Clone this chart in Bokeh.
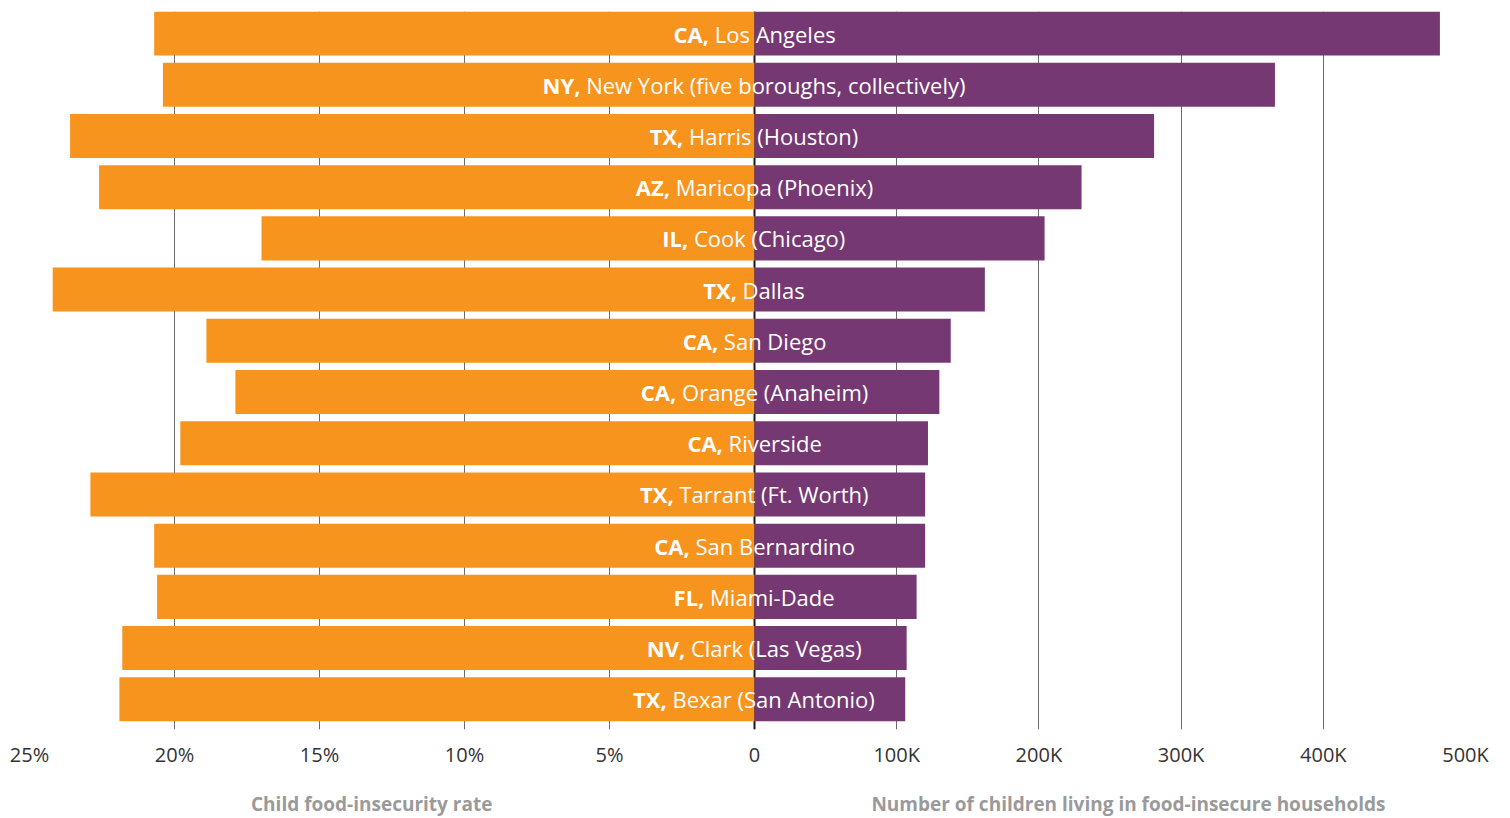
from bokeh.plotting import figure
from bokeh.layouts import column
from bokeh.models import Range1d, ColumnDataSource, FixedTicker, CustomJSTickFormatter, Span
from bokeh.core.properties import value
from bokeh.embed import file_html
from bokeh.resources import INLINE

# ---------------- data ----------------
states = ["CA", "NY", "TX", "AZ", "IL", "TX", "CA", "CA", "CA", "TX", "CA", "FL", "NV", "TX"]
counties = ["Los Angeles", "New York (five boroughs, collectively)", "Harris (Houston)",
            "Maricopa (Phoenix)", "Cook (Chicago)", "Dallas", "San Diego", "Orange (Anaheim)",
            "Riverside", "Tarrant (Ft. Worth)", "San Bernardino", "Miami-Dade",
            "Clark (Las Vegas)", "Bexar (San Antonio)"]
rate = [20.7, 20.4, 23.6, 22.6, 17.0, 24.2, 18.9, 17.9, 19.8, 22.9, 20.7, 20.6, 21.8, 21.9]
children = [482000, 366000, 281000, 230000, 204000, 162000, 138000, 130000, 122000,
            120000, 120000, 114000, 107000, 106000]
rate_ticks = [25, 20, 15, 10, 5, 0]
child_ticks = [100000, 200000, 300000, 400000, 500000]
left_title = "Child food-insecurity rate"
right_title = "Number of children living in food-insecure households"

# ---------------- layout ----------------
LEFT_PX, RIGHT_PX = 725, 711
FRAME_W = LEFT_PX + RIGHT_PX
FRAME_H = 718
BORDER_L, BORDER_R, BORDER_T, BORDER_B = 29, 30, 11, 46
TITLE_H = 816 - (BORDER_T + FRAME_H + BORDER_B)
RATE_MAX, CHILD_MAX = 25, 500000
rate_end = -RATE_MAX * RIGHT_PX / LEFT_PX          # main range (percent units)
child_start = -CHILD_MAX * LEFT_PX / RIGHT_PX      # extra range (children)
k = CHILD_MAX / (-rate_end)                        # children per percent unit on right

ORANGE = "#F7941E"
PURPLE = "#763873"
FONT = "Open Sans"
LABEL_SIZE = 22

# approximate advance widths (em/1000) for centering mixed-weight labels
W = {' ': 260, ',': 245, '(': 294, ')': 294, '-': 322, '.': 266,
     'A': 633, 'B': 648, 'C': 631, 'D': 729, 'E': 556, 'F': 516, 'G': 728, 'H': 738,
     'I': 279, 'L': 519, 'M': 907, 'N': 763, 'O': 781, 'P': 602, 'R': 618, 'S': 549,
     'T': 553, 'V': 581, 'W': 896, 'X': 576, 'Y': 560, 'Z': 573,
     'a': 556, 'b': 613, 'c': 476, 'd': 613, 'e': 561, 'f': 339, 'g': 548, 'h': 614,
     'i': 253, 'k': 525, 'l': 253, 'm': 930, 'n': 614, 'o': 604, 'p': 613, 'r': 408,
     's': 477, 't': 353, 'u': 614, 'v': 501, 'w': 778, 'x': 524, 'y': 502}


def tw(s, bold=False):
    f = 1.08 if bold else 1.0
    return sum(W.get(c, 560) for c in s) * f * LABEL_SIZE / 1000.0


n = len(states)
idx = list(range(n))
bold_txt = [s + "," for s in states]
off_b, off_r = [], []
for b, r in zip(bold_txt, counties):
    wb, ws, wr = tw(b, True), tw(" "), tw(r)
    start = -(wb + ws + wr) / 2
    off_b.append(start + wb)
    off_r.append(start + wb + ws)

src = ColumnDataSource(dict(y=idx, rate=rate, children=children, zero=[0] * n,
                            btxt=bold_txt, rtxt=counties, ob=off_b, orr=off_r))

xr = Range1d(RATE_MAX, rate_end)
kids_range = Range1d(child_start, CHILD_MAX)

p = figure(width=BORDER_L + FRAME_W + BORDER_R, height=BORDER_T + FRAME_H + BORDER_B,
           x_range=xr, y_range=Range1d(13.59, -0.43),
           output_backend="svg", toolbar_location=None,
           min_border_left=BORDER_L, min_border_right=BORDER_R,
           min_border_top=BORDER_T, min_border_bottom=BORDER_B)
p.extra_x_ranges = {"kids": kids_range}
p.outline_line_color = None
p.yaxis.visible = False
p.ygrid.visible = False

ticks = list(rate_ticks) + [-t / k for t in child_ticks]
p.xaxis.ticker = FixedTicker(ticks=ticks)
p.xgrid.ticker = FixedTicker(ticks=ticks)
p.xaxis.formatter = CustomJSTickFormatter(args=dict(k=k), code="""
    if (tick > 0.0001) return Math.round(tick) + '%';
    if (tick > -0.0001) return '0';
    return Math.round(-tick * k / 100000) * 100 + 'K';
""")
p.xaxis.axis_line_color = None
p.xaxis.major_tick_line_color = None
p.xaxis.minor_tick_line_color = None
p.xaxis.major_tick_out = 0
p.xaxis.major_tick_in = 0
p.xaxis.major_label_standoff = 11
p.xaxis.major_label_text_font = FONT
p.xaxis.major_label_text_font_size = "20px"
p.xaxis.major_label_text_color = "#333333"
p.xgrid.grid_line_color = "#6a6a6a"
p.xgrid.grid_line_width = 1

p.add_layout(Span(location=0, dimension="height", line_color="#1a1a1a", line_width=2,
                  level="underlay"))

p.hbar(y="y", left="rate", right="zero", height=0.86, source=src,
       fill_color=ORANGE, line_color=None)
p.hbar(y="y", left="zero", right="children", height=0.86, source=src,
       fill_color=PURPLE, line_color=None, x_range_name="kids")

p.text(x="zero", y="y", text="btxt", x_offset="ob", source=src, text_align="right",
       text_baseline="middle", text_color="white", text_font=value(FONT),
       text_font_style="bold", text_font_size=f"{LABEL_SIZE}px")
p.text(x="zero", y="y", text="rtxt", x_offset="orr", source=src, text_align="left",
       text_baseline="middle", text_color="white", text_font=value(FONT),
       text_font_size=f"{LABEL_SIZE}px")

# ---------------- axis titles strip ----------------
t = figure(width=BORDER_L + FRAME_W + BORDER_R, height=TITLE_H,
           x_range=xr, y_range=Range1d(0, TITLE_H),
           output_backend="svg", toolbar_location=None,
           min_border_left=BORDER_L, min_border_right=BORDER_R,
           min_border_top=0, min_border_bottom=0)
t.extra_x_ranges = {"kids": kids_range}
t.outline_line_color = None
t.axis.visible = False
t.grid.visible = False
TITLE_Y = TITLE_H - 28
tsrc_l = ColumnDataSource(dict(x=[13.2], y=[TITLE_Y], txt=[left_title]))
tsrc_r = ColumnDataSource(dict(x=[263000], y=[TITLE_Y], txt=[right_title]))
t.text(x="x", y="y", text="txt", source=tsrc_l, text_align="center", text_baseline="middle",
       text_font=value(FONT), text_font_style="bold", text_font_size="19px",
       text_color="#9a9a9a")
t.text(x="x", y="y", text="txt", source=tsrc_r, text_align="center", text_baseline="middle",
       text_font=value(FONT), text_font_style="bold", text_font_size="19px",
       text_color="#9a9a9a", x_range_name="kids")

open("out.html", "w").write(file_html(column(p, t, spacing=0), INLINE))
